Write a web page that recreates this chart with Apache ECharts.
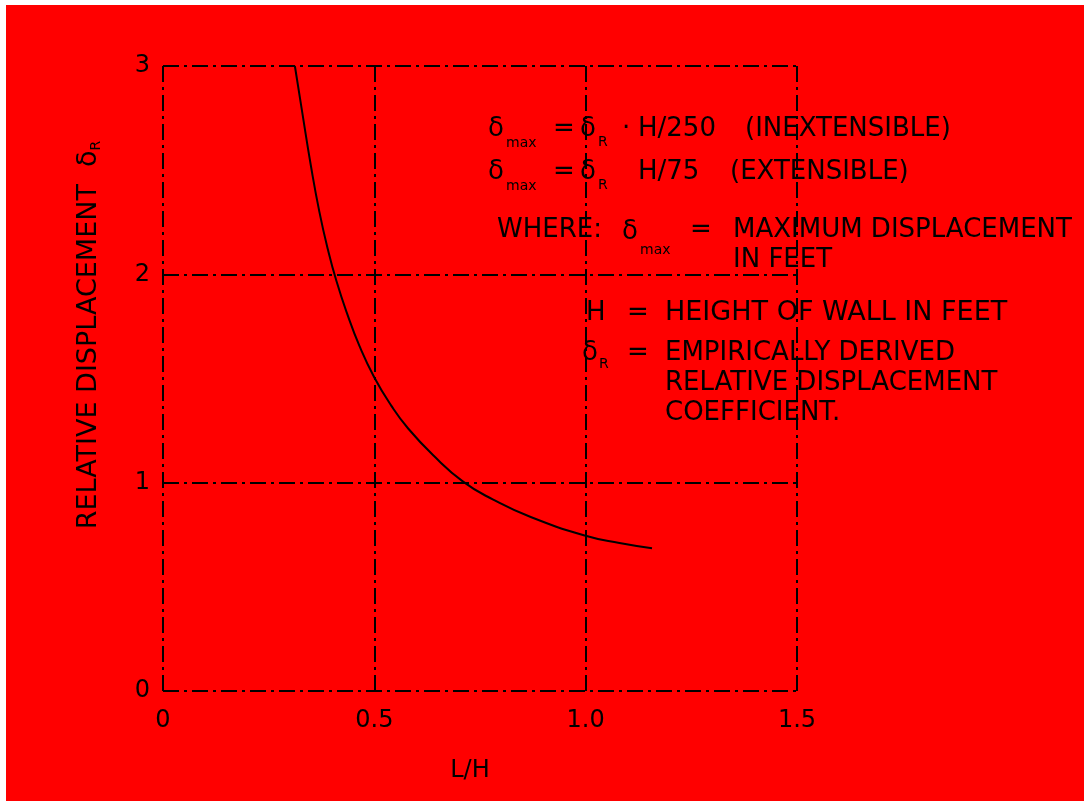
<!DOCTYPE html>
<html>
<head>
<meta charset="utf-8">
<script src="https://cdn.jsdelivr.net/npm/echarts@6/dist/echarts.min.js"></script>
<style>
html,body{margin:0;padding:0;background:#fff;}
#chart{width:1084px;height:801px;}
</style>
</head>
<body>
<div id="chart"></div>
<script>
// ---------- data ----------
const curveX = [0.312, 0.330, 0.350, 0.370, 0.390, 0.410, 0.435, 0.465, 0.500, 0.540, 0.580, 0.640, 0.710, 0.780, 0.870, 1.000, 1.080, 1.157];
const curveY = [3.00, 2.77, 2.52, 2.30, 2.12, 1.97, 1.815, 1.655, 1.505, 1.37, 1.26, 1.13, 1.005, 0.92, 0.835, 0.745, 0.71, 0.685];
const xTickLabels = ['0', '0.5', '1.0', '1.5'];
const yTickLabels = ['0', '1', '2', '3'];
const xAxisTitle = 'L/H';
const yAxisTitle = 'RELATIVE DISPLACEMENT  δ';
const yAxisTitleSub = 'R';
const noteTexts = {
  d: 'δ', max: 'max', eq: '=', R: 'R', dot: '·',
  h250: 'H/250', inext: '(INEXTENSIBLE)',
  h75: 'H/75', ext: '(EXTENSIBLE)',
  where: 'WHERE:', maxDisp: 'MAXIMUM DISPLACEMENT', inFeet: 'IN FEET',
  H: 'H', height: 'HEIGHT OF WALL IN FEET',
  emp: 'EMPIRICALLY DERIVED', rel: 'RELATIVE DISPLACEMENT', coef: 'COEFFICIENT.'
};

// ---------- layout ----------
const FONT = '"DejaVu Sans"';
const big = '26px ' + FONT;
const small = '14px ' + FONT;
const noteLayout = [
  ['d', 488, 129, big], ['max', 506, 143, small], ['eq', 553, 129, big], ['d', 580, 129, big], ['R', 598, 142, small],
  ['dot', 622, 129, big], ['h250', 638, 129, big], ['inext', 745, 129, big],
  ['d', 488, 172, big], ['max', 506, 186, small], ['eq', 553, 172, big], ['d', 580, 172, big], ['R', 598, 185, small],
  ['h75', 638, 172, big], ['ext', 730, 172, big],
  ['where', 497, 230, big], ['d', 622, 232, big], ['max', 640, 250, small], ['eq', 690, 230, big],
  ['maxDisp', 733, 230, big], ['inFeet', 733, 260, big],
  ['H', 586, 313, big], ['eq', 627, 313, big], ['height', 665, 313, '27px ' + FONT],
  ['d', 582, 353, big], ['R', 599, 364, small], ['eq', 627, 353, big], ['emp', 665, 353, big],
  ['rel', 665, 383, big], ['coef', 665, 413, big]
];

const graphics = [
  {type:'rect', shape:{x:0,y:0,width:1084,height:5}, style:{fill:'#fff'}, z:100},
  {type:'rect', shape:{x:0,y:0,width:6,height:801}, style:{fill:'#fff'}, z:100}
];
noteLayout.forEach(([k, x, y, f]) => {
  graphics.push({type:'text', x:x, y:y, z:50, style:{text:noteTexts[k], font:f, fill:'#000',
    align:'left', verticalAlign:'middle', textAlign:'left', textVerticalAlign:'middle'}});
});
graphics.push({type:'text', x:89, y:335, rotation:Math.PI/2, z:50,
  style:{text:'{a|' + yAxisTitle + '}{s|' + yAxisTitleSub + '}', fill:'#000',
    align:'center', verticalAlign:'middle', textAlign:'center', textVerticalAlign:'middle',
    rich:{a:{font:'27px ' + FONT, fill:'#000'}, s:{font:'14px ' + FONT, fill:'#000', padding:[14,0,0,0]}}}});
graphics.push({type:'text', x:470, y:771, z:50,
  style:{text:xAxisTitle, font:'24px ' + FONT, fill:'#000', align:'center', verticalAlign:'middle', textAlign:'center', textVerticalAlign:'middle'}});

const gridLine = {show:true, lineStyle:{color:'#000', width:2, type:[16,5,3,5]}};

const chart = echarts.init(document.getElementById('chart'));
chart.setOption({
  backgroundColor:'#ff0000',
  animation:false,
  grid:{left:163, right:287, top:66, bottom:110},
  xAxis:{type:'value', min:0, max:1.5, interval:0.5,
    axisLine:{show:false}, axisTick:{show:false}, splitLine:gridLine,
    axisLabel:{color:'#000', fontFamily:FONT, fontSize:24, margin:18,
      formatter:v => xTickLabels[Math.round(v/0.5)]}},
  yAxis:{type:'value', min:0, max:3, interval:1,
    axisLine:{show:false}, axisTick:{show:false}, splitLine:gridLine,
    axisLabel:{color:'#000', fontFamily:FONT, fontSize:24, margin:13, padding:[0,0,6,0],
      formatter:v => yTickLabels[Math.round(v)]}},
  series:[{type:'line', data:curveX.map((x,i)=>[x, curveY[i]]), smooth:0.5, showSymbol:false,
    lineStyle:{color:'#000', width:2}}],
  graphic:graphics
});
</script>
</body>
</html>
